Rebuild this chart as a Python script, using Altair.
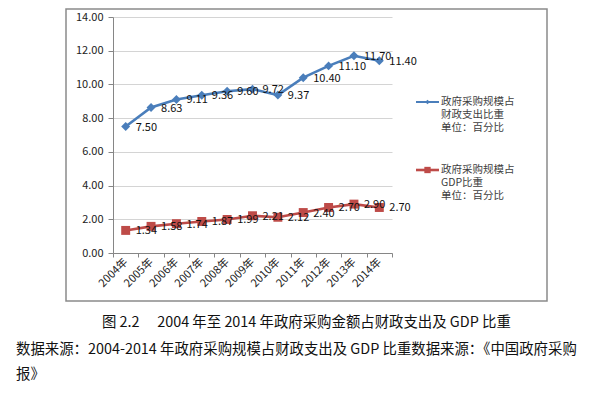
import altair as alt
import pandas as pd

# ---- data ----
YEARS = ["2004年", "2005年", "2006年", "2007年", "2008年", "2009年",
         "2010年", "2011年", "2012年", "2013年", "2014年"]
FISCAL_SHARE = [7.50, 8.63, 9.11, 9.36, 9.60, 9.72, 9.37, 10.40, 11.10, 11.70, 11.40]
GDP_SHARE = [1.34, 1.58, 1.74, 1.87, 1.99, 2.21, 2.12, 2.40, 2.70, 2.90, 2.70]
SERIES = ["政府采购规模占财政支出比重", "政府采购规模占GDP比重"]
LEGEND_LABELS = ["政府采购规模占\n财政支出比重\n单位：百分比",
                 "政府采购规模占\nGDP比重\n单位：百分比"]
Y_TICKS = [0, 2, 4, 6, 8, 10, 12, 14]
COLORS = ["#4a7ebb", "#be4b48"]
SHAPES = ["diamond", "square"]
CAPTION_1 = "图 2.2\u3000 2004 年至 2014 年政府采购金额占财政支出及 GDP 比重"
CAPTION_2 = "数据来源：2004-2014 年政府采购规模占财政支出及 GDP 比重数据来源：《中国政府采购"
CAPTION_3 = "报》"

FONT = "Noto Sans CJK SC"

rows = []
for name, vals in zip(SERIES, [FISCAL_SHARE, GDP_SHARE]):
    for yr, v in zip(YEARS, vals):
        rows.append({"year": yr, "value": v, "series": name})
df = pd.DataFrame(rows)

W, H = 279, 236

x_enc = alt.X(
    "year:N", sort=YEARS,
    scale=alt.Scale(type="band", paddingInner=0, paddingOuter=0),
    axis=alt.Axis(title=None, labelAngle=-45, labelAlign="right", labelBaseline="middle",
                  tickBand="extent", grid=False, domainColor="#868686", tickColor="#868686",
                  tickSize=4, labelPadding=3, labelFontSize=11, labelFont=FONT,
                  labelColor="#222222"),
)
y_enc = alt.Y(
    "value:Q",
    scale=alt.Scale(domain=[0, 14], nice=False),
    axis=alt.Axis(title=None, values=Y_TICKS, format=".2f", gridColor="#d4d4d4",
                  domainColor="#868686", tickColor="#868686", tickSize=5, labelPadding=5,
                  labelFontSize=11, labelFont=FONT, labelColor="#222222"),
)
color_enc = alt.Color("series:N", scale=alt.Scale(domain=SERIES, range=COLORS), legend=None)
shape_enc = alt.Shape("series:N", scale=alt.Scale(domain=SERIES, range=SHAPES), legend=None)

base = alt.Chart(df).encode(x=x_enc, y=y_enc)

lines = base.mark_line(strokeWidth=2.6).encode(color=color_enc, detail="series:N")
points = base.mark_point(filled=True, size=80, opacity=1).encode(color=color_enc, shape=shape_enc)
labels = base.mark_text(align="left", baseline="middle", dx=10, dy=1, fontSize=11,
                        font=FONT, color="#111111").encode(
    text=alt.Text("value:Q", format=".2f"), detail="series:N")

one = alt.Data(values=[{}])

# outer frame
frame = alt.Chart(one).mark_rect(fill="white", fillOpacity=0, stroke="#8a8a8a",
                                 strokeWidth=1.5).encode(
    x=alt.value(-47), x2=alt.value(434), y=alt.value(-8), y2=alt.value(284))

# manual legend
legend_layers = []
legend_y = [85, 153]
sym_size = [22, 40]
line_w = [2, 2.6]
for i in range(2):
    legend_layers.append(
        alt.Chart(one).mark_rule(color=COLORS[i], strokeWidth=line_w[i]).encode(
            x=alt.value(303), x2=alt.value(326), y=alt.value(legend_y[i])))
    legend_layers.append(
        alt.Chart(one).mark_point(shape=SHAPES[i], filled=True, opacity=1, color=COLORS[i],
                                  size=sym_size[i]).encode(
            x=alt.value(314.5), y=alt.value(legend_y[i])))
    legend_layers.append(
        alt.Chart(one).mark_text(align="left", baseline="top", lineBreak="\n", lineHeight=13,
                                 fontSize=10.5, font=FONT, color="#404040").encode(
            x=alt.value(328), y=alt.value(legend_y[i] - 5),
            text=alt.value(LEGEND_LABELS[i])))

cap1 = alt.Chart(one).mark_text(align="left", baseline="middle", fontSize=14.4, font=FONT,
                                color="#111111").encode(
    x=alt.value(-11), y=alt.value(306), text=alt.value(CAPTION_1))
cap2 = alt.Chart(one).mark_text(align="left", baseline="middle", fontSize=14.4, font=FONT,
                                color="#111111").encode(
    x=alt.value(-97), y=alt.value(333), text=alt.value(CAPTION_2))
cap3 = alt.Chart(one).mark_text(align="left", baseline="middle", fontSize=14.4, font=FONT,
                                color="#111111").encode(
    x=alt.value(-97), y=alt.value(358), text=alt.value(CAPTION_3))

chart = alt.layer(
    frame, lines, points, labels, *legend_layers, cap1, cap2, cap3
).properties(
    width=W, height=H,
    autosize=alt.AutoSizeParams(type="none"),
    padding={"left": 105, "top": 9, "right": 195, "bottom": 135},
    background="white",
).configure_view(stroke=None)

chart.save("out.html", embed_options={"renderer": "svg", "actions": False})
